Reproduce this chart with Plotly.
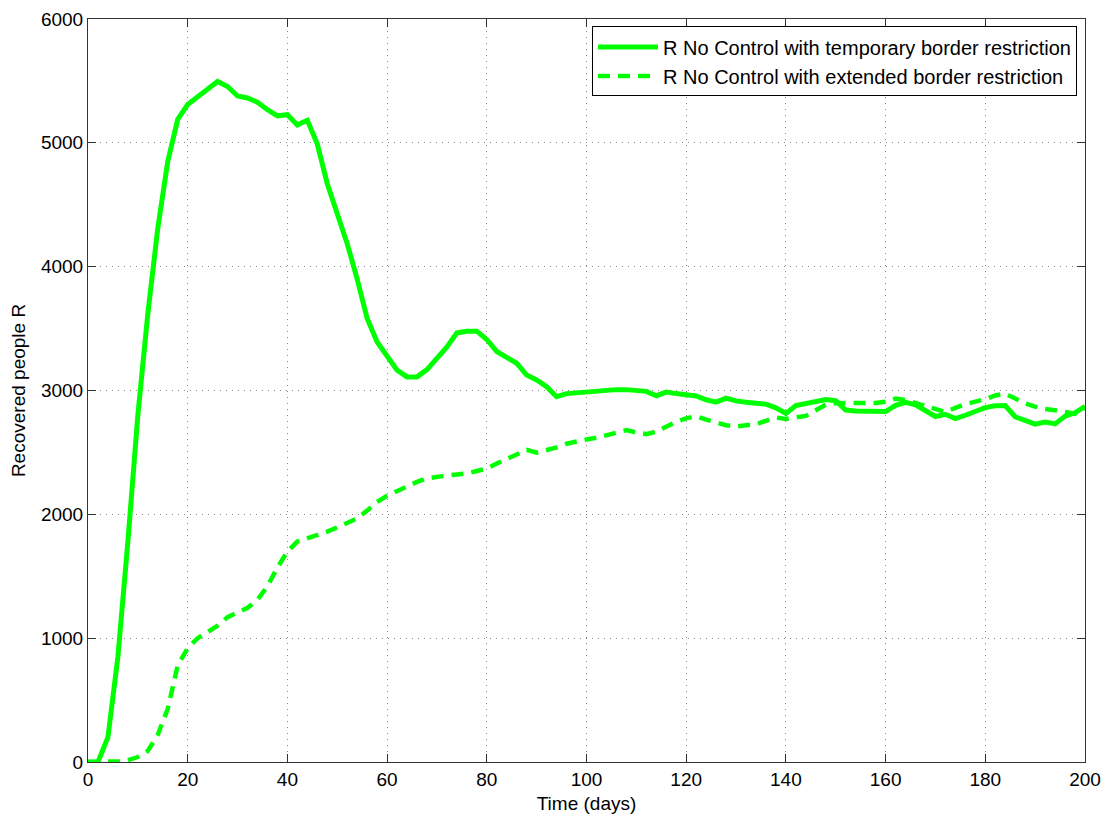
import plotly.graph_objects as go

# Simulation output sampled every 2 days
days = list(range(0, 201, 2))

r_temporary = [
    0, 0, 200, 850, 1780, 2800, 3620, 4310, 4850, 5190,
    5310, 5370, 5430, 5496, 5455, 5378, 5362, 5328, 5268, 5218,
    5227, 5145, 5182, 4990, 4670, 4430, 4185, 3900, 3581, 3392,
    3270, 3164, 3110, 3110, 3169, 3260, 3352, 3465, 3478, 3479,
    3412, 3315, 3273, 3220, 3125, 3085, 3030, 2950, 2975, 2982,
    2987, 2997, 3007, 3007, 3007, 3000, 2993, 2958, 2987, 2975,
    2962, 2956, 2925, 2906, 2938, 2916, 2905, 2893, 2890, 2860,
    2815, 2878, 2893, 2915, 2927, 2918, 2842, 2835, 2833, 2824,
    2830, 2880, 2905, 2885, 2840, 2790, 2808, 2773, 2800, 2826,
    2862, 2876, 2878, 2787, 2755, 2728, 2746, 2730, 2793, 2820,
    2873,
]

r_extended = [
    0, 0, 0, 5, 15, 40, 90, 220, 430, 780,
    920, 1000, 1050, 1100, 1170, 1205, 1245, 1310, 1420, 1570,
    1700, 1780, 1805, 1830, 1860, 1895, 1930, 1967, 2030, 2100,
    2150, 2190, 2230, 2262, 2290, 2305, 2315, 2322, 2330, 2350,
    2370, 2410, 2450, 2490, 2520, 2498, 2515, 2540, 2570, 2590,
    2605, 2618, 2640, 2665, 2680, 2660, 2648, 2668, 2710, 2748,
    2775, 2793, 2765, 2742, 2720, 2710, 2720, 2728, 2755, 2782,
    2770, 2782, 2795, 2840, 2885, 2898, 2900, 2898, 2895, 2900,
    2910, 2935, 2922, 2900, 2875, 2850, 2827, 2860, 2890, 2910,
    2930, 2960, 2975, 2935, 2895, 2870, 2850, 2840, 2825, 2812,
    2860,
]

x_ticks = list(range(0, 201, 20))
y_ticks = list(range(0, 6001, 1000))

GREEN = "#00ff00"
FONT = "Liberation Sans, Arial, sans-serif"

fig = go.Figure()
fig.add_trace(go.Scatter(
    x=days, y=r_temporary, mode="lines",
    name="R No Control with temporary border restriction",
    line=dict(color=GREEN, width=5),
))
fig.add_trace(go.Scatter(
    x=days, y=r_extended, mode="lines",
    name="R No Control with extended border restriction",
    line=dict(color=GREEN, width=4.5, dash="12px,8px"),
))

axis_common = dict(
    showline=True, linecolor="#333333", linewidth=1, mirror="ticks",
    ticks="inside", ticklen=8, tickcolor="#333333", tickwidth=1,
    showgrid=True, gridcolor="#888888", gridwidth=1, griddash="1px,5px",
    zeroline=False, automargin=False,
    tickfont=dict(size=19, color="black", family=FONT),
)

fig.update_xaxes(
    range=[0, 200], tickvals=x_ticks,
    title=dict(text="Time (days)", font=dict(size=19, color="black", family=FONT), standoff=7),
    **axis_common,
)
fig.update_yaxes(
    range=[0, 6000], tickvals=y_ticks,
    title=dict(text="Recovered people R", font=dict(size=19, color="black", family=FONT), standoff=10),
    **axis_common,
)

fig.update_layout(
    width=1117, height=816,
    margin=dict(l=88, r=32, t=19, b=54),
    paper_bgcolor="white", plot_bgcolor="white",
    font=dict(family=FONT, size=19, color="black"),
    showlegend=True,
    legend=dict(
        x=0.992, y=0.99, xanchor="right", yanchor="top",
        bgcolor="white", bordercolor="black", borderwidth=1,
        font=dict(size=20, family=FONT, color="black"),
        itemwidth=60, tracegroupgap=0,
    ),
)

fig.write_html("out.html")
